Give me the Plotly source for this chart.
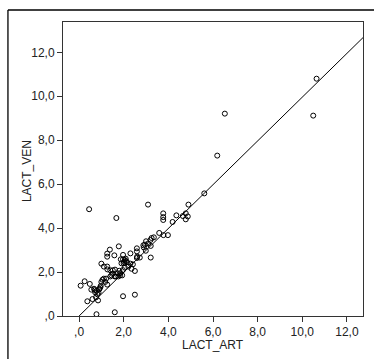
import plotly.graph_objects as go

lact_art = [10.64, 10.49, 6.53, 6.19, 5.61, 4.90, 3.09, 0.45, 1.67, 3.77,
            3.77, 3.77, 4.36, 4.19, 4.65, 4.78, 4.78, 4.87, 3.59, 3.78,
            3.98, 3.35, 3.25, 3.20, 3.00, 2.88, 2.90, 3.21, 3.21, 2.99,
            2.59, 2.59, 2.30, 2.72, 2.59, 2.50, 2.50, 1.97, 1.60, 0.78,
            1.78, 1.38, 1.26, 1.26, 1.58, 1.97, 1.97, 2.09, 1.87, 2.03,
            2.41, 2.21, 2.30, 1.96, 1.93, 1.00, 1.11, 1.26, 1.27, 1.40,
            1.51, 1.61, 1.50, 1.40, 1.60, 1.65, 1.73, 1.80, 1.76, 1.84,
            1.11, 1.21, 1.17, 1.00, 1.26, 0.97, 0.90, 0.79, 0.72, 0.87,
            0.82, 0.67, 0.91, 0.25, 0.07, 0.48, 0.55, 0.37, 0.60, 0.76,
            0.85, 0.70, 2.05, 2.10, 2.00, 1.90, 2.05, 2.35, 1.45, 1.85,
            2.15, 2.60, 3.10, 2.95, 1.05, 0.95]
lact_ven = [10.80, 9.12, 9.21, 7.30, 5.58, 5.07, 5.07, 4.86, 4.46, 4.67,
            4.50, 4.37, 4.58, 4.28, 4.55, 4.67, 4.40, 4.53, 3.78, 3.68,
            3.68, 3.58, 3.55, 3.46, 3.40, 3.22, 3.12, 3.19, 2.66, 2.97,
            3.08, 2.94, 2.85, 2.66, 2.64, 2.05, 0.97, 0.90, 0.17, 0.08,
            3.17, 3.02, 2.84, 2.70, 2.76, 2.78, 2.58, 2.61, 2.58, 2.46,
            2.35, 2.25, 2.38, 2.09, 1.85, 2.38, 2.25, 2.25, 2.12, 2.08,
            2.08, 2.11, 1.92, 1.80, 1.80, 1.80, 1.94, 2.06, 1.80, 1.85,
            1.70, 1.70, 1.55, 1.55, 1.43, 1.37, 1.21, 1.15, 1.08, 1.06,
            0.99, 1.24, 1.24, 1.58, 1.38, 1.46, 1.20, 0.67, 0.77, 0.85,
            0.71, 1.18, 2.55, 2.50, 2.40, 2.40, 2.20, 2.15, 1.85, 1.95,
            2.45, 2.70, 3.30, 3.25, 1.65, 1.30]

tick_vals = [0, 2, 4, 6, 8, 10, 12]
tick_text = [",0", "2,0", "4,0", "6,0", "8,0", "10,0", "12,0"]
x_title = "LACT_ART"
y_title = "LACT_VEN"

fit_slope = 0.996
x_range = [-0.72, 12.72]
y_range = [0, 13.38]

fig = go.Figure()
fig.add_trace(go.Scatter(
    x=[0, x_range[1]], y=[0, fit_slope * x_range[1]],
    mode="lines", line=dict(color="black", width=1), hoverinfo="skip"))
fig.add_trace(go.Scatter(
    x=lact_art, y=lact_ven, mode="markers",
    marker=dict(symbol="circle-open", size=5, color="black", line=dict(width=1))))

font = dict(family="Liberation Sans, Arial, sans-serif", size=12, color="#222")
axis_common = dict(showgrid=False, zeroline=False, showline=True, linecolor="#333",
                   linewidth=1, mirror=True, ticks="outside", ticklen=5,
                   tickcolor="#333", tickvals=tick_vals, ticktext=tick_text,
                   tickfont=font)
frame_line = dict(color="black", width=1.3)
fig.update_layout(
    width=374, height=359,
    margin=dict(l=63, r=11, t=22, b=43, autoexpand=False),
    paper_bgcolor="white", plot_bgcolor="white", showlegend=False,
    xaxis=dict(range=x_range, **axis_common),
    yaxis=dict(range=y_range, **axis_common),
    shapes=[
        dict(type="line", xref="paper", yref="paper",
             x0=-0.1835, x1=-0.1835, y0=-0.2, y1=1.0408, line=frame_line, layer="below"),
        dict(type="line", xref="paper", yref="paper",
             x0=-0.1835, x1=1.2, y0=1.0408, y1=1.0408, line=frame_line, layer="below"),
    ],
    annotations=[
        dict(text=x_title, xref="paper", yref="paper", x=0.5, y=-0.0986,
             xanchor="center", yanchor="middle", showarrow=False, font=font),
        dict(text=y_title, xref="paper", yref="paper", x=-0.120, y=0.493,
             xanchor="center", yanchor="middle", textangle=-90, showarrow=False, font=font),
    ],
)
fig.write_html("out.html", config={"displayModeBar": False},
               post_script="document.body.style.margin='0';document.body.style.overflow='hidden';")
